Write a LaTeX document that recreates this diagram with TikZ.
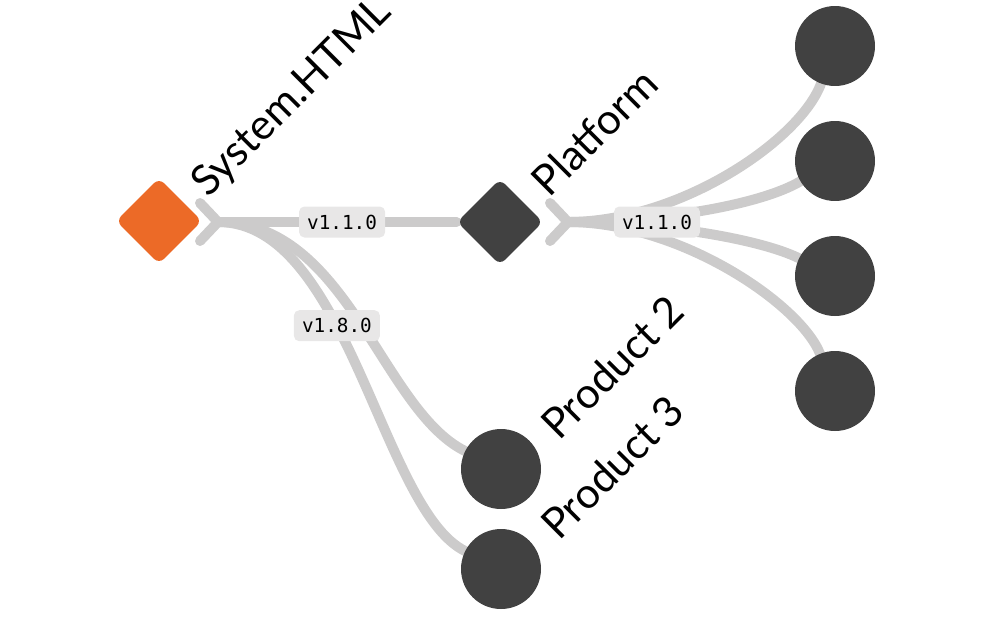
\documentclass[tikz,border=0pt]{standalone}
\usepackage{fontspec}
\setmainfont{Lato}
\newfontfamily\monofont{DejaVu Sans Mono}
\usetikzlibrary{shapes.geometric, backgrounds, calc}
\definecolor{forkOrange}{HTML}{EC6A27}
\definecolor{nodeDark}{HTML}{414141}
\definecolor{edgeGray}{HTML}{CCCBCB}
\definecolor{tagGray}{HTML}{E8E7E7}

\begin{document}
\begin{tikzpicture}[x=0.02cm, y=-0.02cm,
    pkg/.style={diamond, rounded corners=4pt, minimum width=1.72cm, minimum height=1.72cm, inner sep=0pt},
    leaf/.style={circle, fill=nodeDark, minimum size=1.6cm, inner sep=0pt},
    dep/.style={draw=edgeGray, line width=0.2cm, line cap=round},
    ver/.style={rectangle, rounded corners=3pt, fill=tagGray, minimum width=1.72cm, minimum height=0.62cm,
      inner sep=0pt, font=\monofont\fontsize{11}{13}\selectfont},
    lbl/.style={rotate=45, anchor=base west, inner sep=0pt, font=\fontsize{24}{28}\selectfont}
  ]
  \useasboundingbox (0,0) rectangle (1000,616);
  % packages
  \node[pkg, fill=forkOrange] (sys) at (159,221) {};
  \node[pkg, fill=nodeDark] (plat) at (500,222) {};
  \node[leaf] (prod2) at (501,469) {};
  \node[leaf] (prod3) at (501,569) {};
  \foreach \i/\y in {1/46, 2/161, 3/276, 4/391} {
    \node[leaf] (app\i) at (835,\y) {};
  }
  % names
  \node[lbl] (sysname) at ($(sys)+(49,-22)$) {System.HTML};
  \node[lbl] (platname) at ($(plat)+(49,-23)$) {Platform};
  \node[lbl] (prod2name) at ($(prod2)+(58,-27)$) {Product 2};
  \node[lbl] (prod3name) at ($(prod3)+(58,-27)$) {Product 3};
  % forks
  \coordinate (sysfork) at (218,222);
  \coordinate (platfork) at (568,222);
  \begin{scope}[on background layer]
    \foreach \f in {sysfork, platfork} {
      \draw[dep] ($(\f)+(-18,-19)$) -- (\f) -- ($(\f)+(-18,19)$);
    }
    \draw[dep] (sysfork) .. controls +(130,0) and +(-120,-60) .. (prod2);
    \draw[dep] (sysfork) .. controls +(130,0) and +(-120,-60) .. (prod3) node[ver, pos=0.40] (ver18) {v1.8.0};
    \draw[dep] (sysfork) -- (plat) node[ver, pos=0.52] (versys) {v1.1.0};
    \foreach \i/\a/\bx/\by in {1/112/-35/94, 2/92/-75/44, 3/92/-75/-37, 4/112/-35/-87} {
      \draw[dep] (platfork) .. controls +(\a,0) and +(\bx,\by) .. (app\i);
    }
  \end{scope}
  \node[ver] (verplat) at ($(platfork)+(89,0)$) {v1.1.0};
\end{tikzpicture}
\end{document}
